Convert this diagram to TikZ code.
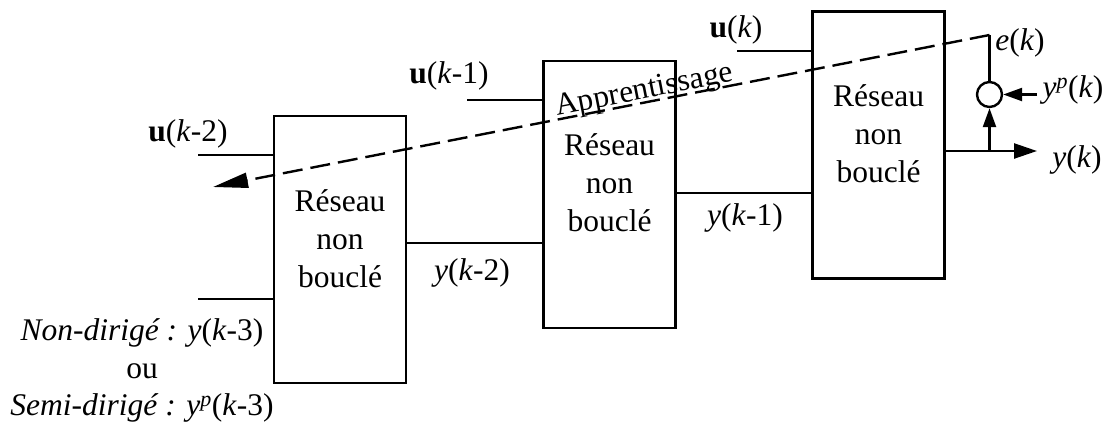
\documentclass[tikz,border=0pt]{standalone}
\usepackage{fontspec}
\setmainfont{Liberation Serif}
\usetikzlibrary{arrows.meta}
\begin{document}
\begin{tikzpicture}[x=1pt,y=-1pt,
  every node/.style={font=\fontsize{31.5}{38}\selectfont, inner sep=0pt},
  wire/.style={line width=2.4pt},
  netbox/.style={draw, line width=2.4pt, minimum width=132pt, minimum height=267pt, inner sep=0pt},
  boxtext/.style={align=center},
  lbl/.style={},
  sumnode/.style={draw, circle, line width=2.4pt, minimum size=25pt, inner sep=0pt},
  bigtip/.style={-{Triangle[length=23pt,width=15pt]}},
  smalltip/.style={-{Triangle[length=19pt,width=13pt]}},
  learnline/.style={line width=2.4pt, dash pattern=on 20pt off 8pt, -{Triangle[length=35pt,width=15pt]}}
]
\useasboundingbox (0,0) rectangle (1110,426);

% boxes
\node[netbox] (b1) at (340,249.5) {};
\node[netbox] (b2) at (609.5,194.5) {};
\node[netbox] (b3) at (878.5,145) {};
\node[boxtext] (t1) at (340,239) {Réseau\\non\\bouclé};
\node[boxtext] (t2) at (609.5,183) {Réseau\\non\\bouclé};
\node[boxtext] (t3) at (878.5,134) {Réseau\\non\\bouclé};

% inputs
\coordinate (i1) at (198,155);
\coordinate (i1b) at (198,299);
\coordinate (i2) at (467,100);
\coordinate (i3) at (737,51);
\draw[wire] (i1) -- (i1 -| b1.west);
\draw[wire] (i1b) -- (i1b -| b1.west);
\draw[wire] (i2) -- (i2 -| b2.west);
\draw[wire] (i3) -- (i3 -| b3.west);

% links between boxes
\coordinate (l12) at (0,243);
\coordinate (l23) at (0,193);
\draw[wire] (b1.east |- l12) -- (b2.west |- l12);
\draw[wire] (b2.east |- l23) -- (b3.west |- l23);

% output and comparator
\coordinate (yk) at (1037,151);
\coordinate (br) at (989.5,151);
\draw[wire, bigtip] (b3.east |- yk) -- (yk);
\node[sumnode] (sum) at (989.5,94.5) {};
\draw[wire, smalltip] (br) -- (sum.south);
\coordinate (yp) at (1037,94.5);
\draw[wire, smalltip] (yp) -- (sum.east);
\coordinate (ek) at (989.5,35);
\draw[wire] (sum.north) -- (ek);

% learning signal
\coordinate (tip) at (213,187);
\draw[learnline] (ek) -- (tip);
\node[rotate=11.08, anchor=base] (learn) at (646,98.5) {Apprentissage};

% labels
\node[lbl] (lu2) at (188,134) {\textbf{u}(\textit{k}-2)};
\node[lbl] (lu1) at (449,76) {\textbf{u}(\textit{k}-1)};
\node[lbl] (lu0) at (736,30) {\textbf{u}(\textit{k})};
\node[lbl] (ly2) at (472,273) {\textit{y}(\textit{k}-2)};
\node[lbl] (ly1) at (745,218) {\textit{y}(\textit{k}-1)};
\node[lbl] (lek) at (1020,43) {\textit{e}(\textit{k})};
\node[lbl] (lyp) at (1073,90) {\textit{y}\textsuperscript{\textit{p}}(\textit{k})};
\node[lbl] (lyk) at (1077,160) {\textit{y}(\textit{k})};
\node[lbl] (nd) at (142,333) {\textit{Non-dirigé : y}(\textit{k}-3)};
\node[lbl] (ou) at (142,371) {ou};
\node[lbl] (sd) at (142,408) {\textit{Semi-dirigé : y}\textsuperscript{\textit{p}}(\textit{k}-3)};
\end{tikzpicture}
\end{document}
